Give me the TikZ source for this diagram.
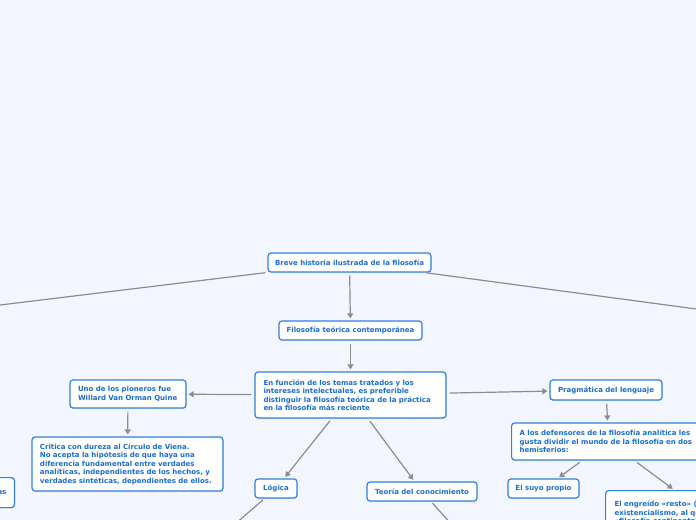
\documentclass[tikz,border=0pt]{standalone}
\usepackage{fontspec}
\setmainfont{DejaVu Sans}
\usepackage{xcolor}
\usepackage{tikz}
\usetikzlibrary{arrows.meta,positioning,shadows}
\definecolor{fondo}{HTML}{F3F6FE}
\definecolor{borde}{HTML}{2F80E0}
\definecolor{letra}{HTML}{1A6DD0}
\definecolor{linea}{HTML}{8C8C8C}
\tikzset{
    tema/.style={
        draw=borde,
        line width=1.2bp,
        rounded corners=3bp,
        fill=white,
        text=letra,
        font=\fontsize{7bp}{8.5bp}\selectfont\bfseries,
        align=center,
        inner sep=0pt,
        minimum height=19bp,
        drop shadow={opacity=0.18, shadow xshift=0.6bp, shadow yshift=-1bp}
    },
    texto/.style={
        tema,
        align=left,
        inner xsep=8.5bp,
        inner ysep=5bp
    },
    flow/.style={
        draw=linea,
        line width=1.2bp,
        -{Triangle[width=6bp,length=5bp]},
        shorten <=3bp,
        shorten >=2bp
    },
    rama/.style={
        draw=linea,
        line width=1.2bp,
        shorten <=2bp
    }
}

\begin{document}
\begin{tikzpicture}[x=1bp, y=-1bp]
        \fill[fondo] (0,0) rectangle (696,520);
        \useasboundingbox (0,0) rectangle (696,520);
        \clip (0,0) rectangle (696,520);
        % centro
        \node[tema, minimum width=163bp] (raiz) at (349.5,262.5) {Breve historia ilustrada de la filosofía};
        \node[tema, minimum width=143bp] (teorica) at (350.5,330.5) {Filosofía teórica contemporánea};
        \node[texto, text width=174bp, minimum height=46bp] (funcion) at (350.5,395) {En función de los temas tratados y los\\intereses intelectuales, es preferible\\distinguir la filosofía teórica de la práctica\\en la filosofía más reciente};
        % izquierda
        \node[texto, text width=100bp, minimum height=28bp, inner xsep=8bp] (quine) at (128,394) {Uno de los pioneros fue\\Willard Van Orman Quine};
        \node[texto, text width=175bp, minimum height=54bp, inner xsep=8bp] (critica) at (127.5,464) {Critica con dureza al Círculo de Viena.\\No acepta la hipótesis de que haya una\\diferencia fundamental entre verdades\\analíticas, independientes de los hechos, y\\verdades sintéticas, dependientes de ellos.};
        \node[texto, text width=60bp, minimum height=30bp, align=right, anchor=north east, inner xsep=8bp] (cortado) at (15,477) {as\\[2bp]};
        % abajo
        \node[tema, minimum width=42bp] (logica) at (276,488.5) {Lógica};
        \node[tema, minimum width=110bp] (teoria) at (422,491.5) {Teoría del conocimiento};
        % derecha
        \node[tema, minimum width=112bp, minimum height=20bp] (pragmatica) at (606,390) {Pragmática del lenguaje};
        \node[texto, text width=178bp, minimum height=37bp, inner xsep=8bp, anchor=west] (defensores) at (511,441.5) {A los defensores de la filosofía analítica les\\gusta dividir el mundo de la filosofía en dos\\hemisferios:};
        \node[tema, minimum width=71bp] (suyo) at (543.5,488.5) {El suyo propio};
        \node[texto, text width=182bp, minimum height=45bp, inner xsep=9bp, anchor=north west] (engreido) at (605,490) {El engreído «resto» (fenomenología,\\existencialismo, al que llaman\\«filosofía continental»)};
        % ramas que salen del cuadro
        \coordinate (izq) at (-200,329.4);
        \coordinate (der) at (900,336.3);
        \coordinate (bajoL) at (184,568.5);
        \coordinate (bajoT) at (494,571.5);
        \draw[rama] (raiz) -- (izq);
        \draw[rama] (raiz) -- (der);
        \draw[rama] (logica) -- (bajoL);
        \draw[rama] (teoria) -- (bajoT);
        % flechas
        \draw[flow] (raiz) -- (teorica);
        \draw[flow] (teorica) -- (funcion);
        \draw[flow] (funcion) -- (quine);
        \draw[flow] (quine) -- (critica);
        \draw[flow] (funcion) -- (logica);
        \draw[flow] (funcion) -- (teoria);
        \draw[flow] (funcion) -- (pragmatica);
        \draw[flow] (pragmatica) -- (defensores);
        \draw[flow] (defensores) -- (suyo);
        \draw[flow] (defensores) -- (engreido);
    \end{tikzpicture}
\end{document}
